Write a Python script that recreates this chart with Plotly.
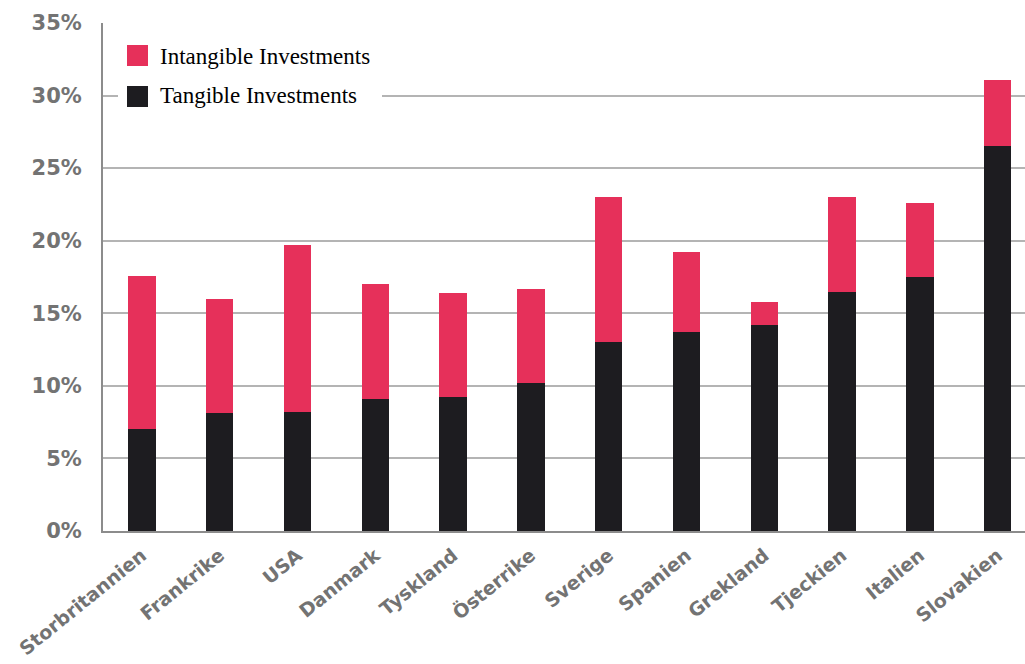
import plotly.graph_objects as go

# Gross investment as share of GDP, split into tangible and intangible parts
countries = ["Storbritannien", "Frankrike", "USA", "Danmark", "Tyskland", "Österrike",
             "Sverige", "Spanien", "Grekland", "Tjeckien", "Italien", "Slovakien"]
tangible = [7.0, 8.1, 8.2, 9.1, 9.2, 10.2, 13.0, 13.7, 14.2, 16.5, 17.5, 26.5]
intangible = [10.6, 7.9, 11.5, 7.9, 7.2, 6.5, 10.0, 5.5, 1.6, 6.5, 5.1, 4.6]
y_ticks = [0, 5, 10, 15, 20, 25, 30, 35]

name_intangible = "Intangible Investments"
name_tangible = "Tangible Investments"
red = "#E6305A"
black = "#1D1C20"
grey_text = "#737373"

W, H = 1025, 664
L, T, B, R = 103, 23, 133, 0
plot_w = W - L - R
plot_h = H - T - B


def px(x):
    return (x - L) / plot_w


def py(y):
    return (H - B - y) / plot_h


fig = go.Figure()
fig.add_bar(x=countries, y=tangible, name=name_tangible, marker_color=black,
            marker_line_width=0, width=0.35, showlegend=False)
fig.add_bar(x=countries, y=intangible, name=name_intangible, marker_color=red,
            marker_line_width=0, width=0.35, showlegend=False)

# Legend drawn as a white panel with square swatches
shapes = [
    dict(type="rect", xref="paper", yref="paper", x0=px(118), x1=px(382),
         y0=py(120), y1=py(32), fillcolor="white", line_width=0, layer="above"),
    dict(type="rect", xref="paper", yref="paper", x0=px(127), x1=px(148),
         y0=py(66), y1=py(45), fillcolor=red, line_width=0, layer="above"),
    dict(type="rect", xref="paper", yref="paper", x0=px(127), x1=px(148),
         y0=py(107), y1=py(86), fillcolor=black, line_width=0, layer="above"),
]
legend_font = dict(family="Liberation Serif, Times New Roman, serif", size=23, color="black")
annotations = [
    dict(xref="paper", yref="paper", x=px(158), y=py(56), text=name_intangible,
         showarrow=False, xanchor="left", yanchor="middle", font=legend_font),
    dict(xref="paper", yref="paper", x=px(158), y=py(96), text=name_tangible,
         showarrow=False, xanchor="left", yanchor="middle", font=legend_font),
]

tick_family = "DejaVu Sans, Arial, sans-serif"
fig.update_layout(
    width=W, height=H,
    margin=dict(l=L, r=R, t=T, b=B, pad=0),
    barmode="stack",
    paper_bgcolor="white", plot_bgcolor="white",
    shapes=shapes, annotations=annotations,
    xaxis=dict(
        range=[-0.5, -0.5 + plot_w / 77.8], automargin=False,
        showgrid=False, showline=True, linecolor="#8C8C8C", linewidth=2,
        tickangle=-39, ticks="", ticklabelstandoff=4,
        tickfont=dict(family=tick_family, size=19, color=grey_text, weight="bold"),
    ),
    yaxis=dict(
        range=[0, 35], tickvals=y_ticks, ticktext=[f"{v}%" for v in y_ticks],
        automargin=False,
        showgrid=True, gridcolor="#B4B4B4", gridwidth=1.5,
        showline=True, linecolor="#8C8C8C", linewidth=2,
        zeroline=False, ticks="", ticklabelstandoff=15,
        tickfont=dict(family=tick_family, size=21, color=grey_text, weight="bold"),
    ),
)

fig.write_html("out.html")
